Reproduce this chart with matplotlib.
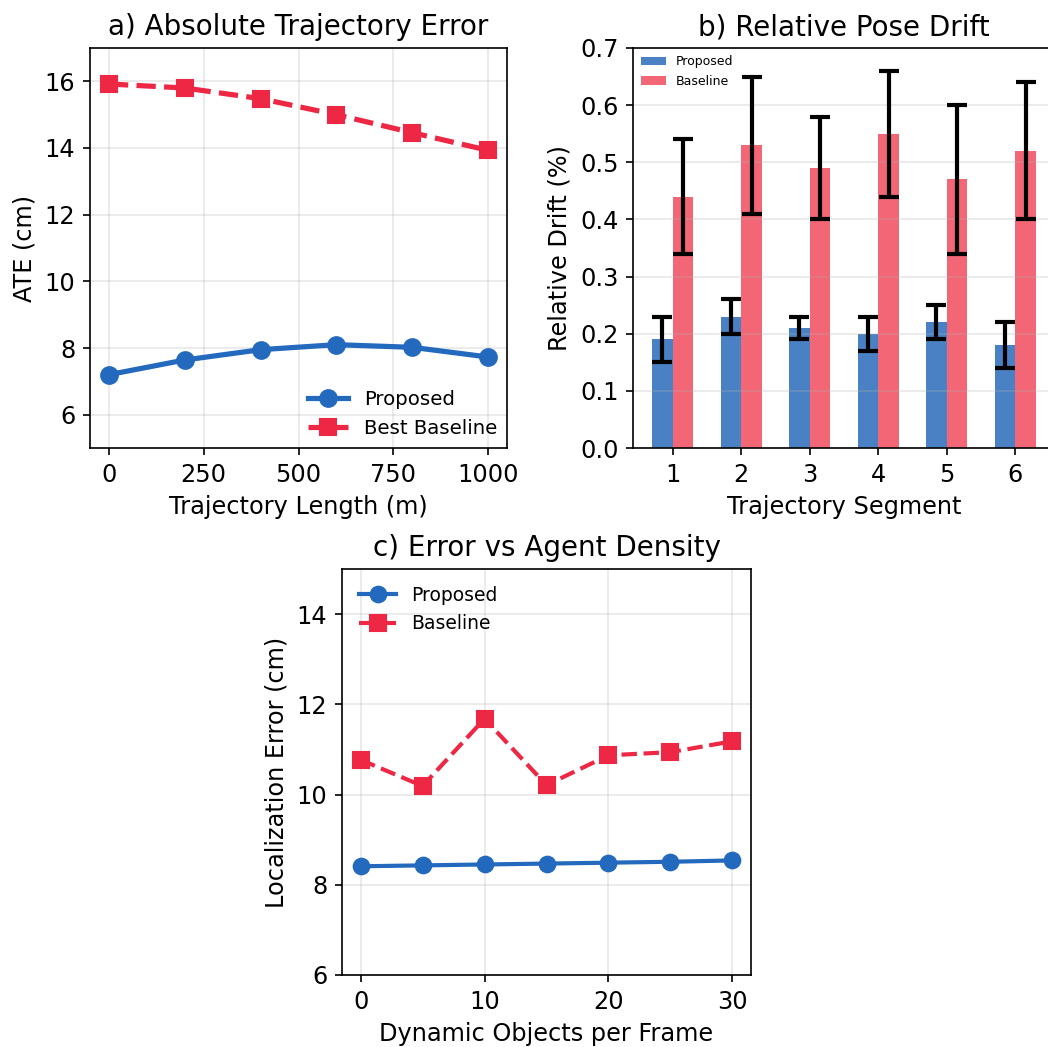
import matplotlib
matplotlib.use("Agg")
import matplotlib.pyplot as plt
import numpy as np

# Panel a data
traj_len = [0, 200, 400, 600, 800, 1000]
ate_proposed = [7.2, 7.64, 7.95, 8.1, 8.02, 7.73]
ate_baseline = [15.92, 15.8, 15.48, 15.0, 14.46, 13.93]

# Panel b data
segments = [1, 2, 3, 4, 5, 6]
drift_proposed = [0.19, 0.23, 0.21, 0.20, 0.22, 0.18]
drift_proposed_err = [0.04, 0.03, 0.02, 0.03, 0.03, 0.04]
drift_baseline = [0.44, 0.53, 0.49, 0.55, 0.47, 0.52]
drift_baseline_err = [0.10, 0.12, 0.09, 0.11, 0.13, 0.12]

# Panel c data
dyn_objects = [0, 5, 10, 15, 20, 25, 30]
loc_proposed = [8.41, 8.43, 8.45, 8.47, 8.49, 8.51, 8.54]
loc_baseline = [10.77, 10.19, 11.68, 10.21, 10.87, 10.94, 11.18]

BLUE = '#2369bd'
RED = '#ee2744'
BAR_BLUE = '#4a80c4'
BAR_RED = '#f26676'

TICK = 11.5
LAB = 11.5
TIT = 13.3

W, H = 1048, 1047
fig = plt.figure(figsize=(W / 150, H / 150), dpi=150)

def ax_px(x0, y0, x1, y1):
    return fig.add_axes([x0 / W, 1 - y1 / H, (x1 - x0) / W, (y1 - y0) / H])

# ---- a)
ax1 = ax_px(90, 48, 507, 448)
ax1.plot(traj_len, ate_proposed, '-o', color=BLUE, lw=2.5, ms=8, label='Proposed')
ax1.plot(traj_len, ate_baseline, '--s', color=RED, lw=2.5, ms=8, label='Best Baseline')
ax1.set_ylim(5, 17)
ax1.set_yticks([6, 8, 10, 12, 14, 16])
ax1.set_xticks([0, 250, 500, 750, 1000])
ax1.set_xlabel('Trajectory Length (m)', fontsize=LAB)
ax1.set_ylabel('ATE (cm)', fontsize=LAB)
ax1.set_title('a) Absolute Trajectory Error', fontsize=TIT)
ax1.grid(True, alpha=0.3)
ax1.legend(loc='lower right', frameon=False, fontsize=9.5, borderaxespad=0.1)
ax1.tick_params(labelsize=TICK)

# ---- b)
ax2 = ax_px(633, 48, 1055, 448)
x = np.array(segments)
w = 0.3
ax2.bar(x - w / 2, drift_proposed, w, yerr=drift_proposed_err, color=BAR_BLUE,
        label='Proposed', error_kw=dict(elinewidth=2, capthick=2, capsize=5, ecolor='black'))
ax2.bar(x + w / 2, drift_baseline, w, yerr=drift_baseline_err, color=BAR_RED,
        label='Baseline', error_kw=dict(elinewidth=2, capthick=2, capsize=5, ecolor='black'))
ax2.set_ylim(0, 0.7)
ax2.set_xticks(segments)
ax2.set_xlabel('Trajectory Segment', fontsize=LAB)
ax2.set_ylabel('Relative Drift (%)', fontsize=LAB)
ax2.set_title('b) Relative Pose Drift', fontsize=TIT)
ax2.grid(True, axis='y', alpha=0.3)
ax2.legend(loc='upper left', frameon=False, fontsize=6, borderaxespad=0.2)
ax2.tick_params(labelsize=TICK)

# ---- c)
ax3 = ax_px(342, 569, 751, 975)
ax3.plot(dyn_objects, loc_proposed, '-o', color=BLUE, lw=2, ms=7.5, label='Proposed')
ax3.plot(dyn_objects, loc_baseline, '--s', color=RED, lw=2, ms=7.5, label='Baseline')
ax3.set_ylim(6, 15)
ax3.set_yticks([6, 8, 10, 12, 14])
ax3.set_xticks([0, 10, 20, 30])
ax3.set_xlabel('Dynamic Objects per Frame', fontsize=LAB)
ax3.set_ylabel('Localization Error (cm)', fontsize=LAB)
ax3.set_title('c) Error vs Agent Density', fontsize=TIT)
ax3.grid(True, alpha=0.3)
ax3.legend(loc='upper left', frameon=False, fontsize=9)
ax3.tick_params(labelsize=TICK)

fig.savefig('out.png', dpi=150)
